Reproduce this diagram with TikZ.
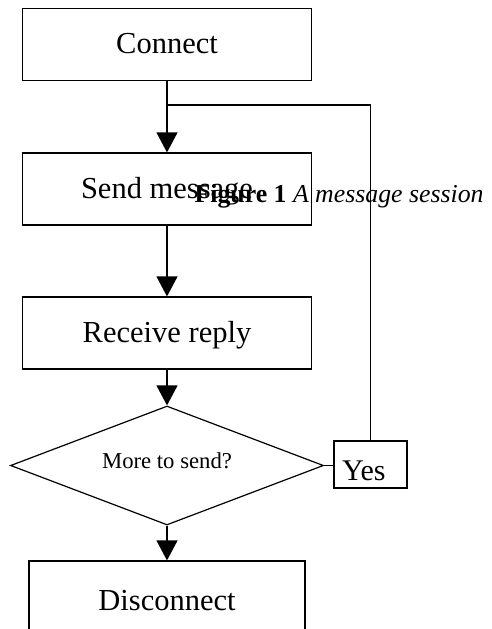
\documentclass[tikz,border=0pt]{standalone}
\usepackage{fontspec}
\setmainfont{Liberation Serif}
\usetikzlibrary{arrows.meta,shapes.geometric}

\tikzset{
  stepbox/.style={draw, rectangle, minimum width=289pt, minimum height=72pt,
    inner sep=0pt, text height=22pt, text depth=4pt,
    font=\fontsize{30.5}{36}\selectfont},
  decision/.style={draw, diamond, aspect=2.63, minimum width=313pt, minimum height=119pt,
    inner sep=0pt, text height=15pt, text depth=10pt,
    font=\fontsize{22.7}{26}\selectfont},
  yesbox/.style={draw, rectangle, minimum width=73pt, minimum height=47pt,
    inner xsep=8pt, inner ysep=8pt, text width=57pt, align=left,
    text height=31pt, text depth=0pt, font=\fontsize{30}{36}\selectfont},
  flow/.style={-{Triangle[length=20pt,width=21pt]}},
}

\begin{document}
\begin{tikzpicture}[x=1pt,y=-1pt,line width=1.2pt]
	\path[use as bounding box] (0,0) rectangle (491,629);
	\clip (0,0) rectangle (491,629);
	\node[stepbox] (conn) at (167,44.5) {Connect};
	\node[stepbox] (send) at (167,189) {Send message};
	\node[stepbox] (recv) at (167,333) {Receive reply};
	\node[decision] (more) at (167,465.5) {More to send?};
	\node[yesbox] (yes) at (370.5,464.5) {Yes};
	\node[stepbox, minimum width=276pt, minimum height=80pt] (disc) at (167,601) {Disconnect};
	\coordinate (loop) at (167,105);
	\draw[flow] (conn) -- (send);
	\draw[flow] (send) -- (recv);
	\draw[flow] (recv) -- (more);
	\draw[flow] (more) -- (disc);
	\draw (more.east) -- (yes.west |- more.east);
	\draw (yes.north) |- (loop);
	% caption sits over the second box
	\node[anchor=base west, inner sep=0pt, font=\fontsize{25.8}{30}\selectfont] (cap) at (194,202)
		{\textbf{Figure 1} \textit{A message session}};
\end{tikzpicture}
\end{document}
